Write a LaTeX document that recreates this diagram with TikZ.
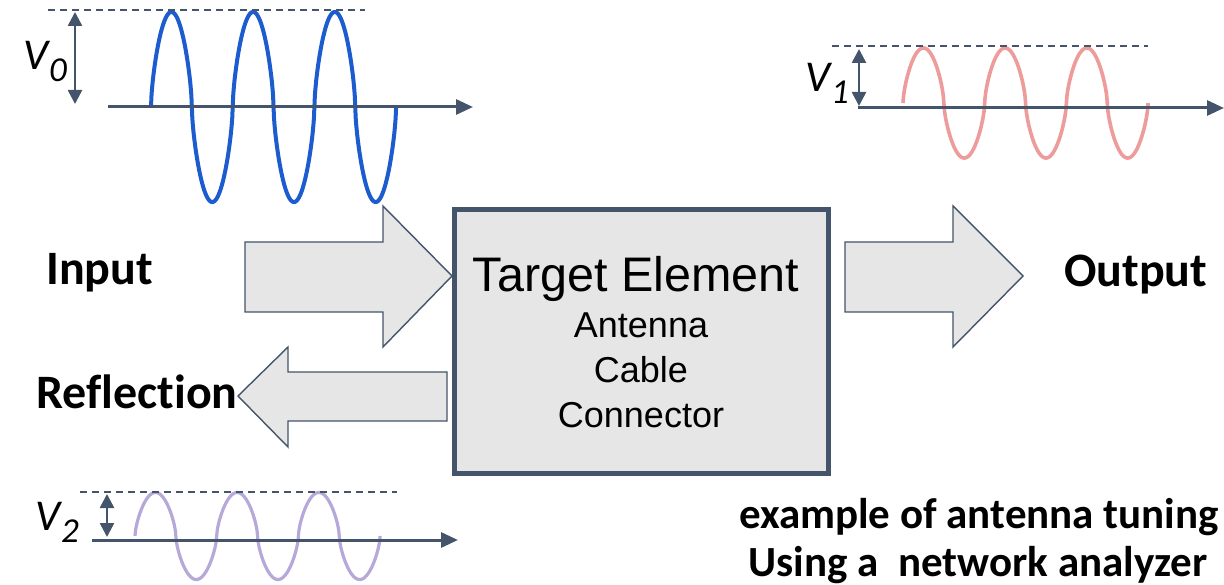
\documentclass[tikz,border=0pt]{standalone}
\usepackage{fontspec}
\setmainfont{Carlito}[RawFeature=-liga]
\newfontfamily\arialfont{Liberation Sans}
\usetikzlibrary{arrows.meta,positioning}
\definecolor{slate}{RGB}{68,84,106}
\definecolor{wblue}{RGB}{28,92,206}
\definecolor{wpink}{RGB}{238,155,155}
\definecolor{wpurple}{RGB}{182,168,216}
\definecolor{boxgray}{RGB}{230,230,230}
\tikzset{
  axisline/.style={slate, line width=3pt, -{Triangle[width=15pt,length=17pt]}},
  ampline/.style={slate, line width=2.6pt, {Triangle[width=14pt,length=14pt]}-{Triangle[width=14pt,length=14pt]}},
  peakline/.style={slate, line width=1.3pt, dash pattern=on 7pt off 5pt},
  wave/.style={line width=3.6pt, line cap=butt, line join=round},
  blockarrow/.style={fill=boxgray, draw=slate, line width=1.4pt, line join=miter},
  targetbox/.style={fill=boxgray, draw=slate, line width=5pt, minimum width=374pt, minimum height=264pt, inner sep=0},
  portlbl/.style={font=\fontsize{48}{52}\selectfont\bfseries, inner sep=0, anchor=base west},
  notelbl/.style={font=\fontsize{43}{46}\selectfont\bfseries, inner sep=0, anchor=base},
  bigtxt/.style={font=\arialfont\fontsize{48.5}{50}\selectfont, inner sep=0, anchor=base},
  smalltxt/.style={font=\arialfont\fontsize{36}{40}\selectfont, inner sep=0, anchor=base},
  vlbl/.style={inner sep=0, anchor=base west}
}
\newcommand{\vsym}[1]{\fontsize{44}{44}\selectfont\itshape V\kern1pt\raisebox{-12pt}{\fontsize{35}{35}\selectfont #1}}
% wave profile: sine with steep zero crossings
\newcommand{\wavey}[1]{sign(sin(#1))*pow(abs(sin(#1))+0.0001,0.65)}

\begin{document}
\begin{tikzpicture}[x=1pt, y=-1pt]
  \useasboundingbox (0,0) rectangle (1224,585);

  % Incident wave
  \draw[wave, wblue, line width=4pt] plot[domain=0:1080, samples=541] ({151+(\x/360)*81.7},{107-95*\wavey{\x}});
  \draw[peakline] (48,10) -- (365,10);
  \draw[ampline] (75,12) -- (75,104);
  \draw[axisline] (108,107) -- (473,107);
  \node[vlbl] (v0) at (23,70) {\vsym{0}};

  % Transmitted wave
  \draw[wave, wpink] plot[domain=0:1080, samples=541] ({903+(\x/360)*81.7},{103-55*\wavey{\x}});
  \draw[peakline] (832,46) -- (1148,46);
  \draw[ampline] (859,49) -- (859,106);
  \draw[axisline] (858,108) -- (1224,108);
  \node[vlbl] (v1) at (805,92) {\vsym{1}};

  % Reflected wave
  \draw[wave, wpurple, line width=3.2pt] plot[domain=0:1080, samples=541] ({135+(\x/360)*81.7},{536-43.5*\wavey{\x}});
  \draw[peakline] (80,492) -- (397,492);
  \draw[ampline] (107,494) -- (107,537);
  \draw[axisline] (92,540) -- (458,540);
  \node[vlbl] (v2) at (35,530) {\vsym{2}};

  % Target element
  \node[targetbox] (target) at (641.5,341.5) {};
  \node[bigtxt] (title) at (636,292) {Target Element};
  \node[smalltxt] (ant) at (641,338) {Antenna};
  \node[smalltxt] (cab) at (641,382) {Cable};
  \node[smalltxt] (con) at (641,427) {Connector};

  % Block arrows
  \draw[blockarrow] (245,242) -- (383,242) -- (383,206) -- (452,276) -- (383,347) -- (383,312) -- (245,312) -- cycle;
  \draw[blockarrow] (845,242) -- (953,242) -- (953,206) -- (1023,276) -- (953,347) -- (953,312) -- (845,312) -- cycle;
  \draw[blockarrow] (447,372) -- (288,372) -- (288,347) -- (238,396) -- (288,447) -- (288,421) -- (447,421) -- cycle;

  % Port labels
  \node[portlbl] (inlbl) at (46,285) {Input};
  \node[portlbl] (reflbl) at (36,408) {Reflection};
  \node[portlbl] (outlbl) at (1064,287) {Output};

  % Note
  \node[notelbl] (note1) at (979,528) {example of antenna tuning};
  \node[notelbl] (note2) at (978,576) {Using a~ network analyzer};
\end{tikzpicture}
\end{document}
